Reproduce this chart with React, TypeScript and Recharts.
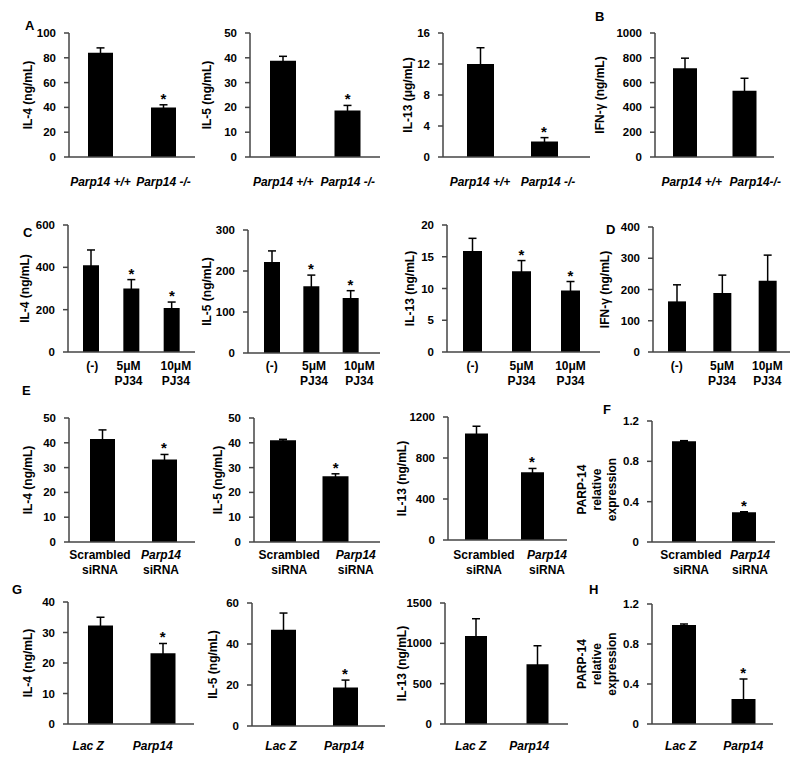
import { BarChart, Bar, XAxis, YAxis, ErrorBar, ReferenceDot } from 'recharts';

const FONT = '"Liberation Sans", Arial, sans-serif';

// category labels
const genotypeCats = ['Parp14 +/+', 'Parp14 -/-'];
const genotypeCatsB = ['Parp14 +/+', 'Parp14-/-'];
const pj34Cats = ['(-)', '5μM\nPJ34', '10μM\nPJ34'];
const sirnaCats = ['Scrambled\nsiRNA', 'Parp14\nsiRNA'];
const lacZCats = ['Lac Z', 'Parp14'];

// A / B : knockout cells
const il4Ko = [84, 40];
const il4KoErr = [4, 2.1];
const il5Ko = [38.8, 18.8];
const il5KoErr = [1.8, 2];
const il13Ko = [12, 2];
const il13KoErr = [2.1, 0.5];
const ifngKo = [715, 535];
const ifngKoErr = [82, 100];

// C / D : PJ34 treatment
const il4Pj = [410, 300, 208];
const il4PjErr = [72, 42, 28];
const il5Pj = [222, 163, 134];
const il5PjErr = [27, 27, 18];
const il13Pj = [15.9, 12.7, 9.7];
const il13PjErr = [2, 1.7, 1.4];
const ifngPj = [162, 189, 228];
const ifngPjErr = [53, 57, 82];

// E / F : siRNA
const il4Si = [41.5, 33.3];
const il4SiErr = [3.7, 2];
const il5Si = [41, 26.5];
const il5SiErr = [0.4, 1];
const il13Si = [1040, 662];
const il13SiErr = [70, 36];
const parpSi = [1.0, 0.295];
const parpSiErr = [0.005, 0.005];

// G / H : overexpression
const il4Oe = [32.3, 23.2];
const il4OeErr = [2.7, 3.2];
const il5Oe = [46.9, 18.8];
const il5OeErr = [8.2, 3.6];
const il13Oe = [1090, 740];
const il13OeErr = [215, 230];
const parpOe = [0.99, 0.25];
const parpOeErr = [0.01, 0.2];

// y ticks
const t100 = [0, 20, 40, 60, 80, 100];
const t50 = [0, 10, 20, 30, 40, 50];
const t16 = [0, 4, 8, 12, 16];
const t1000 = [0, 200, 400, 600, 800, 1000];
const t600 = [0, 200, 400, 600];
const t300 = [0, 100, 200, 300];
const t20 = [0, 5, 10, 15, 20];
const t400 = [0, 100, 200, 300, 400];
const t1200 = [0, 400, 800, 1200];
const t12 = [0, 0.4, 0.8, 1.2];
const t40 = [0, 10, 20, 30, 40];
const t60 = [0, 20, 40, 60];
const t1500 = [0, 500, 1000, 1500];

// layout of the 16 panels (pixel frame of each plot + label nudges)
const panels = [
  { x0: 69, x1: 195, yTop: 33, y0: 157, cats: genotypeCats, vals: il4Ko, errs: il4KoErr, stars: [1], ticks: t100, title: ['IL-4 (ng/mL)'], tdx: 41, bar: 25, pad: [0, 0], ldy: 29, ls: [0, 0] },
  { x0: 250, x1: 380, yTop: 33, y0: 157, cats: genotypeCats, vals: il5Ko, errs: il5KoErr, stars: [1], ticks: t50, title: ['IL-5 (ng/mL)'], tdx: 43, bar: 26, pad: [1, 0], ldy: 29, ls: [0, 0] },
  { x0: 443, x1: 590, yTop: 33, y0: 157, cats: genotypeCats, vals: il13Ko, errs: il13KoErr, stars: [1], ticks: t16, title: ['IL-13 (μg/mL)'], tdx: 35, bar: 27, pad: [5, 14], ldy: 29, ls: [0, 4] },
  { x0: 655, x1: 774, yTop: 33, y0: 157, cats: genotypeCatsB, vals: ifngKo, errs: ifngKoErr, stars: [], ticks: t1000, title: ['IFN-γ (ng/mL)'], tdx: 55, bar: 24, pad: [0, 0], ldy: 29, ls: [7, 11] },

  { x0: 68, x1: 195, yTop: 225, y0: 352, cats: pj34Cats, vals: il4Pj, errs: il4PjErr, stars: [1, 2], ticks: t600, title: ['IL-4 (ng/mL)'], tdx: 43, bar: 16, pad: [3, 3], ldy: 18, ls: [1, -3, 4] },
  { x0: 248, x1: 380, yTop: 230, y0: 353, cats: pj34Cats, vals: il5Pj, errs: il5PjErr, stars: [1, 2], ticks: t300, title: ['IL-5 (ng/mL)'], tdx: 41, bar: 16, pad: [4, 10], ldy: 17, ls: [0, 3, 9] },
  { x0: 447, x1: 600, yTop: 225, y0: 352, cats: pj34Cats, vals: il13Pj, errs: il13PjErr, stars: [1, 2], ticks: t20, title: ['IL-13 (ng/mL)'], tdx: 37, bar: 19, pad: [1, 5], ldy: 18, ls: [0, 0, 0] },
  { x0: 653, x1: 790, yTop: 227, y0: 352, cats: pj34Cats, vals: ifngPj, errs: ifngPjErr, stars: [], ticks: t400, title: ['IFN-γ (ng/mL)'], tdx: 48, bar: 18, pad: [1, 0], ldy: 18, ls: [0, 0, 0] },

  { x0: 69, x1: 195, yTop: 418, y0: 542, cats: sirnaCats, vals: il4Si, errs: il4SiErr, stars: [1], ticks: t50, title: ['IL-4 (ng/mL)'], tdx: 41, bar: 25, pad: [2, 0], ldy: 17, ls: [-2, -3] },
  { x0: 254, x1: 380, yTop: 418, y0: 542, cats: sirnaCats, vals: il5Si, errs: il5SiErr, stars: [1], ticks: t50, title: ['IL-5 (ng/mL)'], tdx: 36, bar: 26, pad: [3, 18], ldy: 17, ls: [6, 20] },
  { x0: 448, x1: 567, yTop: 417, y0: 540, cats: sirnaCats, vals: il13Si, errs: il13SiErr, stars: [1], ticks: t1200, title: ['IL-13 (ng/mL)'], tdx: 46, bar: 23, pad: [0, 7], ldy: 19, ls: [8, 15] },
  { x0: 652, x1: 775, yTop: 421, y0: 542, cats: sirnaCats, vals: parpSi, errs: parpSiErr, stars: [1], ticks: t12, title: ['PARP-14', 'relative', 'expression'], tdx: 55, tdy: 8, bar: 24, pad: [2, 1], ldy: 17, ls: [7, 6] },

  { x0: 68, x1: 194, yTop: 602, y0: 724, cats: lacZCats, vals: il4Oe, errs: il4OeErr, stars: [1], ticks: t40, title: ['IL-4 (ng/mL)'], tdx: 40, bar: 25, pad: [1, 0], ldy: 26, ls: [-12, -10] },
  { x0: 252, x1: 385, yTop: 603, y0: 726, cats: lacZCats, vals: il5Oe, errs: il5OeErr, stars: [1], ticks: t60, title: ['IL-5 (ng/mL)'], tdx: 39, bar: 25, pad: [0, 9], ldy: 24, ls: [-2, -1] },
  { x0: 445, x1: 568, yTop: 603, y0: 724, cats: lacZCats, vals: il13Oe, errs: il13OeErr, stars: [], ticks: t1500, title: ['IL-13 (ng/mL)'], tdx: 43, bar: 22, pad: [0, 0], ldy: 26, ls: [-5, -8] },
  { x0: 652, x1: 773, yTop: 604, y0: 724, cats: lacZCats, vals: parpOe, errs: parpOeErr, stars: [1], ticks: t12, title: ['PARP-14', 'relative', 'expression'], tdx: 55, bar: 24, pad: [2, 0], ldy: 26, ls: [-3, 0] },
];

const letters = [
  { t: 'A', x: 25, y: 30 },
  { t: 'B', x: 595, y: 21 },
  { t: 'C', x: 23, y: 237 },
  { t: 'D', x: 606, y: 234 },
  { t: 'E', x: 22, y: 395 },
  { t: 'F', x: 603, y: 414 },
  { t: 'G', x: 12, y: 594 },
  { t: 'H', x: 589, y: 594 },
];

const LEFT = 90;
const TOP = 15;
const RIGHT = 12;
const BOTTOM = 48;
const AXIS = '#444';

const CatTick = ({ x, y, payload, index, dy, shifts }: any) => {
  const lines = String(payload.value).split('\n');
  const sx = x + (shifts[index] || 0);
  return (
    <g>
      {lines.map((ln, i) => (
        <text
          key={i}
          x={sx}
          y={y + dy + i * 15}
          textAnchor="middle"
          fontSize={12}
          fontWeight="bold"
          fontStyle={/^(Parp14|Lac Z)/.test(ln) ? 'italic' : 'normal'}
          fontFamily={FONT}
          fill="#000"
        >
          {ln}
        </text>
      ))}
    </g>
  );
};

function Panel({ p }: { p: any }) {
  const plotW = p.x1 - p.x0;
  const plotH = p.y0 - p.yTop;
  const data = p.cats.map((c: string, i: number) => ({ cat: c, v: p.vals[i], err: p.errs[i] }));
  const max = p.ticks[p.ticks.length - 1];
  const tx = LEFT - p.tdx;
  const ty = TOP + plotH / 2 + (p.tdy || 0);
  const n = p.title.length;

  return (
    <div style={{ position: 'absolute', left: p.x0 - LEFT, top: p.yTop - TOP }}>
      <BarChart
        width={LEFT + plotW + RIGHT}
        height={TOP + plotH + BOTTOM}
        data={data}
        margin={{ top: TOP, right: RIGHT, left: 0, bottom: 0 }}
        barSize={p.bar}
      >
        <XAxis
          dataKey="cat"
          height={BOTTOM}
          stroke={AXIS}
          strokeWidth={1.5}
          tickLine={false}
          tickSize={0}
          tickMargin={0}
          interval={0}
          padding={{ left: p.pad[0], right: p.pad[1] }}
          tick={(props: any) => <CatTick {...props} dy={p.ldy} shifts={p.ls} />}
        />
        <YAxis
          width={LEFT}
          domain={[0, max]}
          ticks={p.ticks}
          interval={0}
          stroke={AXIS}
          strokeWidth={1.5}
          tickSize={5}
          tickMargin={8}
          tick={{ fill: '#000', fontSize: 11.5, fontWeight: 'bold', fontFamily: FONT }}
          label={{
            content: () => (
              <text
                transform={`rotate(-90, ${tx}, ${ty})`}
                x={tx}
                y={ty}
                textAnchor="middle"
                fontSize={12}
                fontWeight="bold"
                fontFamily={FONT}
                fill="#000"
              >
                {p.title.map((ln: string, i: number) => (
                  <tspan key={i} x={tx} dy={i === 0 ? 4 - ((n - 1) / 2) * 15 : 15}>
                    {ln}
                  </tspan>
                ))}
              </text>
            ),
          }}
        />
        <Bar dataKey="v" fill="#000" isAnimationActive={false}>
          <ErrorBar dataKey="err" width={4} strokeWidth={1.5} stroke="#000" direction="y" />
        </Bar>
        {p.stars.map((i: number) => (
          <ReferenceDot
            key={i}
            x={p.cats[i]}
            y={p.vals[i] + p.errs[i]}
            r={0}
            fill="none"
            stroke="none"
            label={{ value: '*', position: 'top', offset: 1, fill: '#000', fontSize: 15, fontWeight: 'bold', fontFamily: FONT }}
          />
        ))}
      </BarChart>
    </div>
  );
}

export default function App() {
  return (
    <div style={{ position: 'absolute', left: 0, top: 0, width: 800, height: 766, background: '#fff', fontFamily: FONT }}>
      {panels.map((p, i) => (
        <Panel key={i} p={p} />
      ))}
      {letters.map((l) => (
        <div
          key={l.t}
          style={{ position: 'absolute', left: l.x, top: l.y - 11, fontSize: 13, fontWeight: 'bold', lineHeight: '13px', color: '#000' }}
        >
          {l.t}
        </div>
      ))}
    </div>
  );
}
